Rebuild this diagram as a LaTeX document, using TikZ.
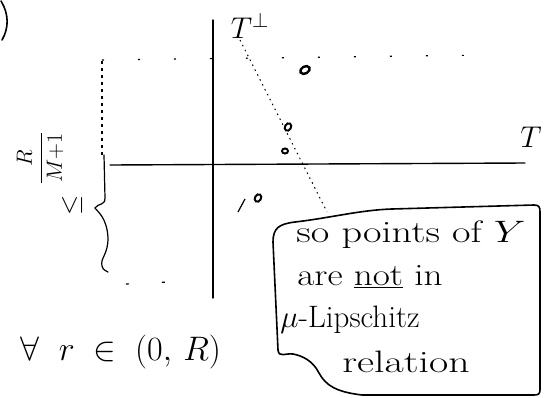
\RequirePackage{fix-cm}
\documentclass[tikz,border=0pt]{standalone}
\usepackage{fontspec}
\usepackage{graphicx}
\usetikzlibrary{calc,shapes.geometric}
\begin{document}
\begin{tikzpicture}[x=1pt,y=-1pt,
  axis/.style={line width=1.4pt, line cap=round},
  dotln/.style={line width=1pt, dash pattern=on 1.5pt off 4pt},
  sparse/.style={line width=1.2pt, dash pattern=on 2pt off 34pt},
  leftdots/.style={line width=1.1pt, dash pattern=on 3pt off 4pt},
  ptmark/.style={ellipse, draw, line width=2pt, inner sep=0pt, minimum width=8pt, minimum height=6pt},
  hand/.style={font=\fontsize{31}{34}\selectfont, inner sep=0pt},
  box/.style={line width=1.6pt, line join=round}]
\useasboundingbox (0,0) rectangle (544,397);
% partial bracket at top left
\draw[line width=1.6pt, line cap=round] (1,1) .. controls (9,14) and (9,28) .. (2,40);
% axes
\coordinate (vtop) at (213,20);
\coordinate (vbot) at (213,298);
\draw[axis] (vtop) -- (vbot);
\coordinate (hl) at (110,165);
\coordinate (hr) at (525,163);
\draw[axis] (hl) -- (hr);
\node[inner sep=0pt, font=\fontsize{30}{32}\selectfont] (T) at (531,137) {$T$};
\node[inner sep=0pt, font=\fontsize{30}{32}\selectfont] (Tp) at (250,26) {$T^{\perp}$};
% dotted perpendicular line
\coordinate (ds) at (240,40);
\coordinate (de) at (327,212);
\draw[dotln] (ds) -- (de);
% points
\node[ptmark, rotate=30, minimum width=10pt, minimum height=7pt, line width=2.4pt] (p1) at (305,70) {};
\node[ptmark, rotate=60] (p2) at (288,127) {};
\node[ptmark, minimum width=6pt, minimum height=5pt] (p3) at (285,151) {};
\node[ptmark, rotate=60] (p4) at (258,198) {};
\coordinate (s1) at (238,212);
\coordinate (s2) at (245,199);
\draw[line width=1.2pt] (s1) -- (s2);
% dotted rectangle
\coordinate (r1) at (102,155);
\coordinate (r2) at (102,60);
\coordinate (r3) at (492,55);
\draw[leftdots] (r1) -- (r2);
\draw[sparse] (r2) -- (r3);
\coordinate (b1) at (126,284);
\coordinate (b2) at (168,282);
\draw[sparse, dash pattern=on 3pt off 33pt] (b1) -- (b2);
% brace
\draw[line width=1.2pt, line cap=round] (104,155) -- (105,198)
  .. controls (105,206) and (98,203) .. (95,208)
  .. controls (98,212) and (107,218) .. (108,238)
  .. controls (108,255) and (100,258) .. (102,266)
  .. controls (103,270) and (106,271) .. (108,272);
% rotated labels
\node[inner sep=0pt, rotate=90, font=\fontsize{26}{28}\selectfont] (le) at (72,205) {$\leq$};
\node[inner sep=0pt, rotate=90, font=\fontsize{22}{24}\selectfont] (fr) at (40,158) {$\displaystyle\frac{R}{M{+}1}$};
% for all
\node[hand, font=\fontsize{34}{38}\selectfont] (fa) at (121,352) {$\forall\;\; r \;\in\; (0,\,R)$};
% callout
\draw[box] (273,242) .. controls (273,228) and (279,224) .. (295,222)
  .. controls (330,218) and (360,210) .. (392,209) -- (534,205)
  .. controls (539,205) and (540,207) .. (540,212) -- (540,390)
  .. controls (540,394) and (538,395) .. (534,395) -- (362,395)
  .. controls (337,392) and (326,386) .. (319,373)
  .. controls (313,361) and (303,356) .. (293,354)
  .. controls (285,353) and (279,358) .. (278,350) -- cycle;
\node[hand] (l1) at (411,235) {\scalebox{1.3}[1]{so points of $Y$}};
\node[hand] (l2) at (370,277) {\scalebox{1.2}[1]{are \underline{not} in}};
\node[hand] (l3) at (350,320) {$\mu$-Lipschitz};
\node[hand] (l4) at (406,362) {\scalebox{1.35}[1]{relation}};
\end{tikzpicture}
\end{document}
